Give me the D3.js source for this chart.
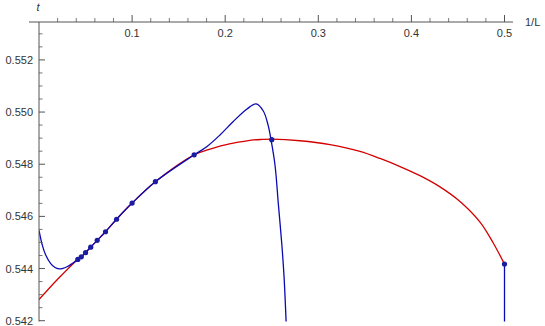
<!DOCTYPE html>
<html><head><meta charset="utf-8">
<script src="https://cdn.jsdelivr.net/npm/d3@7"></script>
<style>body{margin:0;background:#fff}svg{display:block}text{font-family:"Liberation Sans",Arial,sans-serif}</style>
</head><body>
<svg id="c" width="545" height="326"></svg>
<script>
// Data points (1/L, t) for L = 2,4,...,24
const pointX = [1/2,1/4,1/6,1/8,1/10,1/12,1/14,1/16,1/18,1/20,1/22,1/24];
const pointT = [0.54417,0.54894,0.54836,0.54733,0.54651,0.54589,0.54541,0.54508,0.54482,0.54461,0.54445,0.54435];

// Red fit curve
const redX = [0,0.02,1/24,1/22,1/20,1/18,1/16,1/14,1/12,1/10,1/8,1/6,0.18,0.19,0.2,0.21,0.22,0.23,0.24,0.25,0.2803,0.3126,0.3448,0.3663,0.3878,0.4092,0.4307,0.4522,0.4737,0.4876,0.5];
const redT = [0.54281,0.54359,0.54435,0.54445,0.54461,0.54482,0.54508,0.54541,0.54589,0.54651,0.54733,0.54836,0.54854,0.54865,0.54874,0.54882,0.54888,0.54893,0.54895,0.54896,0.54890,0.54875,0.54849,0.54822,0.54791,0.54756,0.54713,0.54657,0.54578,0.54500,0.54417];

// Blue curve
const blueX = [0,0.00354,0.0072,0.0126,0.0172,0.0215,0.0258,0.0301,0.0344,0.0376,1/24,1/22,1/20,1/18,1/16,1/14,1/12,1/10,1/8,1/6,0.1805,0.1944,0.2084,0.2231,0.2331,0.2409,0.246,0.2492,0.2535,0.257,0.2607,0.2632,0.2655];
const blueT = [0.54546,0.54490,0.54452,0.54419,0.54404,0.54399,0.54401,0.54407,0.54416,0.54424,0.54435,0.54445,0.54461,0.54482,0.54508,0.54541,0.54589,0.54651,0.54733,0.54836,0.54868,0.54912,0.54963,0.55011,0.55031,0.55004,0.54951,0.54894,0.54797,0.54651,0.54498,0.54369,0.54190];
// Blue drop at 1/L = 0.5
const blue2X = [0.5,0.5];
const blue2T = [0.54417,0.54190];

const xTicks = [0.1,0.2,0.3,0.4,0.5];
const xTickLabels = ["0.1","0.2","0.3","0.4","0.5"];
const yTicks = [0.542,0.544,0.546,0.548,0.550,0.552];
const yTickLabels = ["0.542","0.544","0.546","0.548","0.550","0.552"];

const svg = d3.select("#c");
const x = d3.scaleLinear().domain([0,0.5]).range([39,504.5]);
const y = d3.scaleLinear().domain([0.542,0.552]).range([320.7,59.9]);
const axisY = 22, plotBottom = 321.5;
const axisCol = "#555", textCol = "#333";

svg.append("clipPath").attr("id","clip").append("rect")
  .attr("x",39).attr("y",axisY).attr("width",480).attr("height",plotBottom-axisY);

const g = svg.append("g").attr("clip-path","url(#clip)");
const line = d3.line().x(d=>x(d[0])).y(d=>y(d[1])).curve(d3.curveCatmullRom.alpha(0.5));

g.append("path").datum(redX.map((v,i)=>[v,redT[i]])).attr("d",line)
  .attr("fill","none").attr("stroke","#d40000").attr("stroke-width",1.3);
g.append("path").datum(blueX.map((v,i)=>[v,blueT[i]])).attr("d",line)
  .attr("fill","none").attr("stroke","#0a0ab4").attr("stroke-width",1.3);
g.append("path").datum(blue2X.map((v,i)=>[v,blue2T[i]])).attr("d",d3.line().x(d=>x(d[0])).y(d=>y(d[1])))
  .attr("fill","none").attr("stroke","#0a0ab4").attr("stroke-width",1.3);

g.selectAll("circle").data(pointX.map((v,i)=>[v,pointT[i]])).join("circle")
  .attr("cx",d=>x(d[0])).attr("cy",d=>y(d[1])).attr("r",2.6).attr("fill","#1c1ca0");

// Axes
const ax = svg.append("g");
ax.append("line").attr("x1",29).attr("x2",513).attr("y1",axisY).attr("y2",axisY).attr("stroke",axisCol);
ax.append("line").attr("x1",x(0)).attr("x2",x(0)).attr("y1",axisY).attr("y2",plotBottom).attr("stroke",axisCol);

const xMinor = d3.range(0,26).map(i=>i*0.02).filter(v=>!xTicks.some(t=>Math.abs(t-v)<1e-9) && v>0);
ax.selectAll(".xmin").data(xMinor).join("line").attr("x1",d=>x(d)).attr("x2",d=>x(d))
  .attr("y1",axisY).attr("y2",axisY-4).attr("stroke",axisCol).attr("stroke-width",0.8);
ax.selectAll(".xmaj").data(xTicks).join("line").attr("x1",d=>x(d)).attr("x2",d=>x(d))
  .attr("y1",axisY).attr("y2",axisY-7).attr("stroke",axisCol);
ax.selectAll(".xl").data(xTicks).join("text").attr("x",d=>x(d)).attr("y",37)
  .attr("text-anchor","middle").attr("font-size",11).attr("fill",textCol).text((d,i)=>xTickLabels[i]);

const yMinor = d3.range(0,24).map(i=>0.542+i*0.0005).filter(v=>!yTicks.some(t=>Math.abs(t-v)<1e-9) && y(v)>axisY+2);
ax.selectAll(".ymin").data(yMinor).join("line").attr("x1",x(0)).attr("x2",x(0)+3.5)
  .attr("y1",d=>y(d)).attr("y2",d=>y(d)).attr("stroke",axisCol).attr("stroke-width",0.8);
ax.selectAll(".ymaj").data(yTicks).join("line").attr("x1",x(0)).attr("x2",x(0)+6)
  .attr("y1",d=>y(d)).attr("y2",d=>y(d)).attr("stroke",axisCol);
ax.selectAll(".yl").data(yTicks).join("text").attr("x",33).attr("y",d=>y(d)).attr("dy","0.36em")
  .attr("text-anchor","end").attr("font-size",11).attr("fill",textCol).text((d,i)=>yTickLabels[i]);

svg.append("text").attr("x",38).attr("y",11).attr("text-anchor","middle").attr("font-size",11)
  .attr("font-style","italic").attr("fill",textCol).text("t");
svg.append("text").attr("x",525).attr("y",26).attr("font-size",11).attr("fill",textCol).text("1/L");
</script>
</body></html>
